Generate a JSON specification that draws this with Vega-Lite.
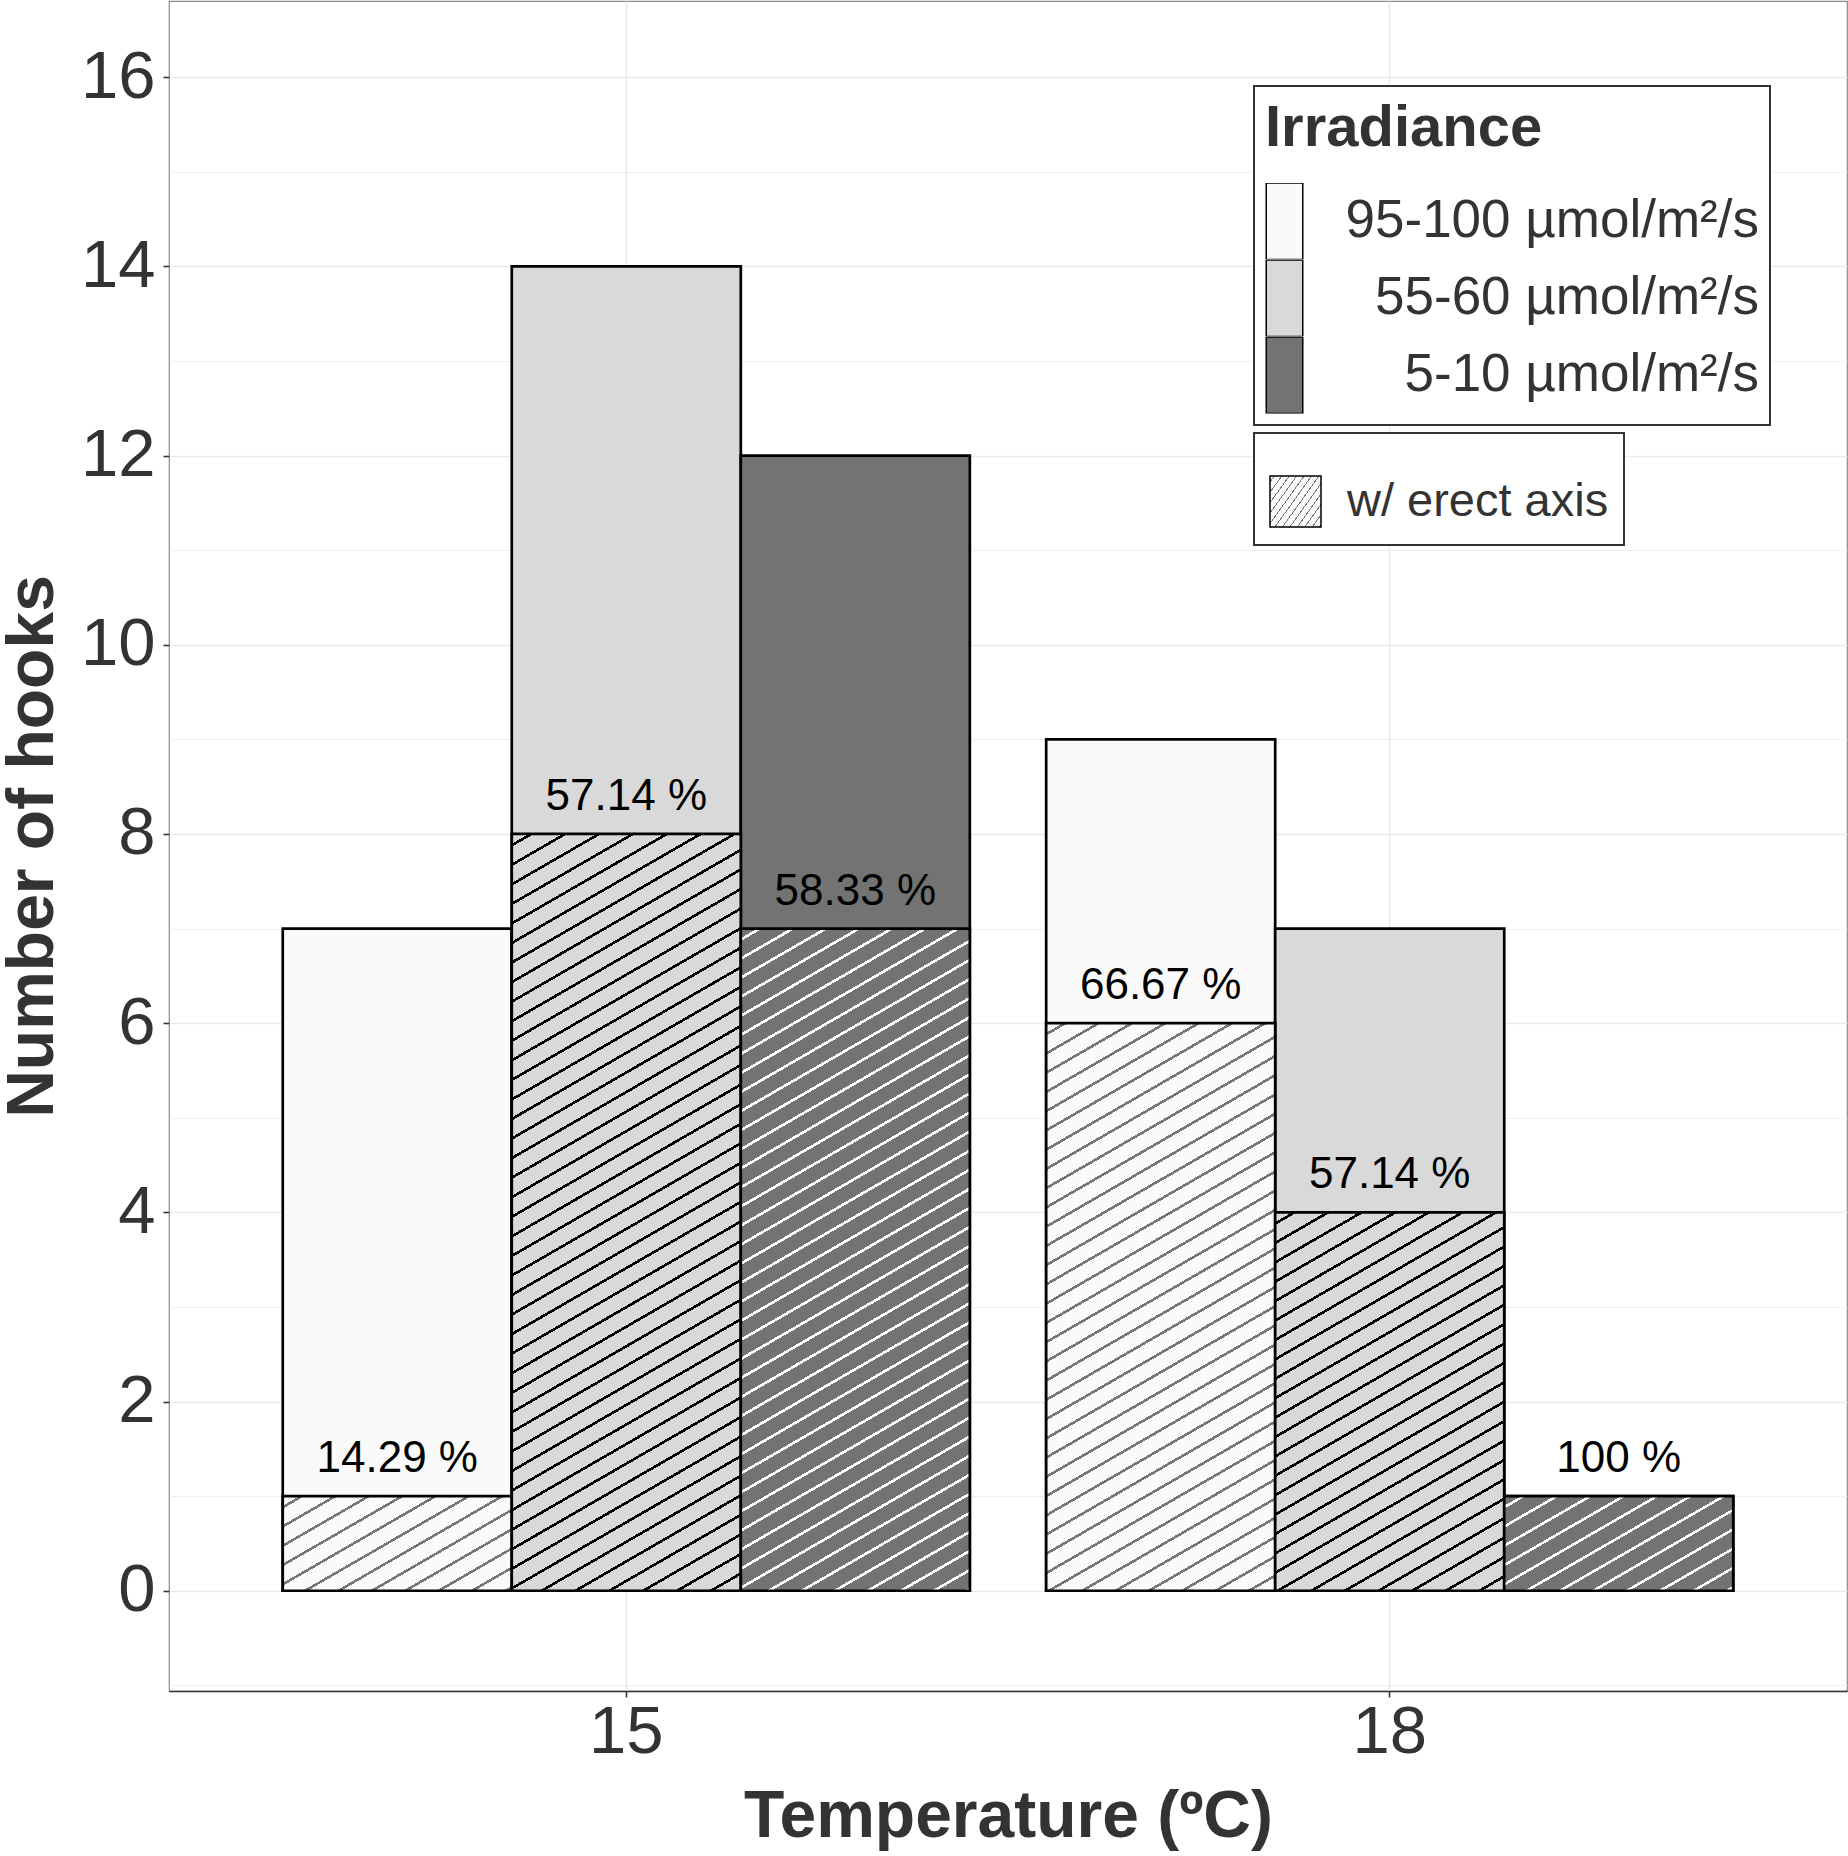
{
  "$schema": "https://vega.github.io/schema/vega-lite/v6.json",
  "width": 1678,
  "height": 1690,
  "autosize": "none",
  "padding": {"left": 169, "top": 1, "right": 1, "bottom": 165},
  "background": "white",
  "config": {
    "font": "Liberation Sans",
    "view": {"stroke": "#8a8a8a", "strokeWidth": 1.2},
    "legend": {"strokeWidth": 2}
  },
  "data": {
    "values": [
      {"temp": "15", "irr": "95-100 µmol/m²/s", "lvl": 1, "total": 7, "erect": 1, "pct": "14.29 %"},
      {"temp": "15", "irr": "55-60 µmol/m²/s", "lvl": 2, "total": 14, "erect": 8, "pct": "57.14 %"},
      {"temp": "15", "irr": "5-10 µmol/m²/s", "lvl": 3, "total": 12, "erect": 7, "pct": "58.33 %"},
      {"temp": "18", "irr": "95-100 µmol/m²/s", "lvl": 1, "total": 9, "erect": 6, "pct": "66.67 %"},
      {"temp": "18", "irr": "55-60 µmol/m²/s", "lvl": 2, "total": 7, "erect": 4, "pct": "57.14 %"},
      {"temp": "18", "irr": "5-10 µmol/m²/s", "lvl": 3, "total": 1, "erect": 1, "pct": "100 %"}
    ]
  },
  "encoding": {
    "x": {
      "field": "temp",
      "type": "nominal",
      "scale": {"type": "band", "paddingInner": 0.1, "paddingOuter": 0.149},
      "axis": {
        "labelAngle": 0,
        "labelFontSize": 67,
        "labelColor": "#333",
        "labelPadding": 2,
        "tickSize": 6,
        "tickWidth": 1.6,
        "tickColor": "#333",
        "domain": true,
        "domainColor": "#333",
        "domainWidth": 1.6,
        "grid": true,
        "gridColor": "#ebebeb",
        "gridWidth": 1.6,
        "title": "Temperature (ºC)",
        "titleFontSize": 66,
        "titleFontWeight": "bold",
        "titleColor": "#333",
        "titleBaseline": "alphabetic",
        "titleY": 145.7
      }
    },
    "xOffset": {
      "field": "irr",
      "type": "nominal",
      "scale": {
        "domain": ["95-100 µmol/m²/s", "55-60 µmol/m²/s", "5-10 µmol/m²/s"],
        "paddingInner": 0,
        "paddingOuter": 0
      }
    }
  },
  "layer": [
    {
      "mark": {"type": "bar", "stroke": "black", "strokeWidth": 2.7},
      "encoding": {
        "y": {
          "field": "total",
          "type": "quantitative",
          "stack": null,
          "scale": {"domain": [-1.06, 16.805], "nice": false, "zero": false},
          "axis": {
            "values": [-1, 0, 1, 2, 3, 4, 5, 6, 7, 8, 9, 10, 11, 12, 13, 14, 15, 16],
            "format": "d",
            "labelExpr": "datum.value % 2 == 0 ? datum.label : ''",
            "labelFontSize": 67,
            "labelColor": "#333",
            "labelPadding": 8,
            "tickSize": 6,
            "tickColor": "#333",
            "tickWidth": 1.6,
            "tickOpacity": {"condition": {"test": "datum.value % 2 == 0", "value": 1}, "value": 0},
            "domain": false,
            "grid": true,
            "gridColor": "#ebebeb",
            "gridWidth": {"condition": {"test": "datum.value % 2 == 0", "value": 1.6}, "value": 0.8},
            "title": "Number of hooks",
            "titleFontSize": 66,
            "titleFontWeight": "bold",
            "titleColor": "#333",
            "titleBaseline": "alphabetic",
            "titleX": -116.7
          }
        },
        "fill": {
          "field": "irr",
          "type": "nominal",
          "scale": {
            "domain": ["95-100 µmol/m²/s", "55-60 µmol/m²/s", "5-10 µmol/m²/s"],
            "range": ["#fafafa", "#d9d9d9", "#737373"]
          },
          "legend": {
            "orient": "none",
            "legendX": 1085,
            "legendY": 85,
            "title": "Irradiance",
            "titleFontSize": 58,
            "titleFontWeight": "bold",
            "titleColor": "#333",
            "titleLimit": 1000,
            "titleLineHeight": 65,
            "titleBaseline": "line-top",
            "titlePadding": 28,
            "padding": 11,
            "fillColor": "white",
            "strokeColor": "#333",
            "symbolType": "M-0.4873,-1.0215H0.4873V1.0215H-0.4873Z",
            "symbolSize": 5610,
            "symbolOffset": -19,
            "clipHeight": 76.5,
            "labelAlign": "right",
            "labelOffset": 436,
            "labelFontSize": 53,
            "labelColor": "#333",
            "labelLimit": 0,
            "rowPadding": 0,
            "encode": {
              "symbols": {
                "update": {
                  "stroke": {"value": "#333"},
                  "strokeWidth": {"value": 1.2}
                }
              }
            }
          }
        }
      }
    },
    {
      "encoding": {
        "y": {
          "field": "erect",
          "type": "quantitative",
          "stack": null,
          "scale": {"domain": [-1.06, 16.805], "nice": false, "zero": false}
        },
        "opacity": {
          "datum": "w/ erect axis",
          "type": "nominal",
          "scale": {"range": [1]},
          "legend": {
            "orient": "none",
            "legendX": 1085,
            "legendY": 432,
            "title": " ",
            "titleFontSize": 10,
            "titleLineHeight": 20,
            "titleBaseline": "line-top",
            "titlePadding": 17,
            "padding": 15,
            "fillColor": "white",
            "strokeColor": "#333",
            "symbolType": "M-1,-1H1V1H-1Z",
            "symbolSize": 2601,
            "symbolOffset": 0,
            "labelOffset": 25,
            "labelFontSize": 47,
            "labelColor": "#333",
            "labelLimit": 0,
            "encode": {
              "symbols": {
                "update": {
                  "fill": {"value": {"gradient": "linear", "x1": 0, "y1": 0, "x2": 0.683, "y2": 1.183, "stops": [
                    {"offset": 0.127, "color": "#fcfcfc"}, {"offset": 0.127, "color": "#111"}, {"offset": 0.151, "color": "#111"}, {"offset": 0.151, "color": "#fcfcfc"},
                    {"offset": 0.317, "color": "#fcfcfc"}, {"offset": 0.317, "color": "#111"}, {"offset": 0.341, "color": "#111"}, {"offset": 0.341, "color": "#fcfcfc"},
                    {"offset": 0.507, "color": "#fcfcfc"}, {"offset": 0.507, "color": "#111"}, {"offset": 0.531, "color": "#111"}, {"offset": 0.531, "color": "#fcfcfc"},
                    {"offset": 0.697, "color": "#fcfcfc"}, {"offset": 0.697, "color": "#111"}, {"offset": 0.721, "color": "#111"}, {"offset": 0.721, "color": "#fcfcfc"},
                    {"offset": 0.887, "color": "#fcfcfc"}, {"offset": 0.887, "color": "#111"}, {"offset": 0.911, "color": "#111"}, {"offset": 0.911, "color": "#fcfcfc"}
                  ]}},
                  "stroke": {"value": "#aaa"},
                  "strokeWidth": {"value": 1.3},
                  "opacity": {"value": 1}
                }
              }
            }
          }
        }
      },
      "layer": [
        {
          "transform": [{"filter": "datum.temp == '15' && datum.lvl == 1"}],
          "mark": {"type": "bar", "stroke": "black", "strokeWidth": 2.7, "fill": {"gradient": "linear", "x1": 0, "y1": 0, "x2": 1.1347, "y2": 0.8117, "stops": [
            {"offset": 0.0425, "color": "#fafafa"}, {"offset": 0.0425, "color": "#777"}, {"offset": 0.0555, "color": "#777"}, {"offset": 0.0555, "color": "#fafafa"},
            {"offset": 0.1275, "color": "#fafafa"}, {"offset": 0.1275, "color": "#777"}, {"offset": 0.1405, "color": "#777"}, {"offset": 0.1405, "color": "#fafafa"},
            {"offset": 0.2125, "color": "#fafafa"}, {"offset": 0.2125, "color": "#777"}, {"offset": 0.2255, "color": "#777"}, {"offset": 0.2255, "color": "#fafafa"},
            {"offset": 0.2975, "color": "#fafafa"}, {"offset": 0.2975, "color": "#777"}, {"offset": 0.3105, "color": "#777"}, {"offset": 0.3105, "color": "#fafafa"},
            {"offset": 0.3825, "color": "#fafafa"}, {"offset": 0.3825, "color": "#777"}, {"offset": 0.3955, "color": "#777"}, {"offset": 0.3955, "color": "#fafafa"},
            {"offset": 0.4675, "color": "#fafafa"}, {"offset": 0.4675, "color": "#777"}, {"offset": 0.4805, "color": "#777"}, {"offset": 0.4805, "color": "#fafafa"},
            {"offset": 0.5525, "color": "#fafafa"}, {"offset": 0.5525, "color": "#777"}, {"offset": 0.5655, "color": "#777"}, {"offset": 0.5655, "color": "#fafafa"},
            {"offset": 0.6375, "color": "#fafafa"}, {"offset": 0.6375, "color": "#777"}, {"offset": 0.6505, "color": "#777"}, {"offset": 0.6505, "color": "#fafafa"},
            {"offset": 0.7225, "color": "#fafafa"}, {"offset": 0.7225, "color": "#777"}, {"offset": 0.7355, "color": "#777"}, {"offset": 0.7355, "color": "#fafafa"},
            {"offset": 0.8075, "color": "#fafafa"}, {"offset": 0.8075, "color": "#777"}, {"offset": 0.8205, "color": "#777"}, {"offset": 0.8205, "color": "#fafafa"},
            {"offset": 0.8925, "color": "#fafafa"}, {"offset": 0.8925, "color": "#777"}, {"offset": 0.9055, "color": "#777"}, {"offset": 0.9055, "color": "#fafafa"},
            {"offset": 0.9775, "color": "#fafafa"}, {"offset": 0.9775, "color": "#777"}, {"offset": 0.9905, "color": "#777"}, {"offset": 0.9905, "color": "#fafafa"}
          ]}}
        },
        {
          "transform": [{"filter": "datum.temp == '15' && datum.lvl == 2"}],
          "mark": {"type": "bar", "stroke": "black", "strokeWidth": 2.7, "fill": {"gradient": "linear", "x1": 0, "y1": 0, "x2": 0.19917, "y2": 1.13985, "stops": [
            {"offset": 0.011, "color": "#d9d9d9"}, {"offset": 0.011, "color": "#000"}, {"offset": 0.0144, "color": "#000"}, {"offset": 0.0144, "color": "#d9d9d9"},
            {"offset": 0.033, "color": "#d9d9d9"}, {"offset": 0.033, "color": "#000"}, {"offset": 0.0364, "color": "#000"}, {"offset": 0.0364, "color": "#d9d9d9"},
            {"offset": 0.055, "color": "#d9d9d9"}, {"offset": 0.055, "color": "#000"}, {"offset": 0.0584, "color": "#000"}, {"offset": 0.0584, "color": "#d9d9d9"},
            {"offset": 0.077, "color": "#d9d9d9"}, {"offset": 0.077, "color": "#000"}, {"offset": 0.0804, "color": "#000"}, {"offset": 0.0804, "color": "#d9d9d9"},
            {"offset": 0.099, "color": "#d9d9d9"}, {"offset": 0.099, "color": "#000"}, {"offset": 0.1024, "color": "#000"}, {"offset": 0.1024, "color": "#d9d9d9"},
            {"offset": 0.121, "color": "#d9d9d9"}, {"offset": 0.121, "color": "#000"}, {"offset": 0.1244, "color": "#000"}, {"offset": 0.1244, "color": "#d9d9d9"},
            {"offset": 0.143, "color": "#d9d9d9"}, {"offset": 0.143, "color": "#000"}, {"offset": 0.1464, "color": "#000"}, {"offset": 0.1464, "color": "#d9d9d9"},
            {"offset": 0.165, "color": "#d9d9d9"}, {"offset": 0.165, "color": "#000"}, {"offset": 0.1684, "color": "#000"}, {"offset": 0.1684, "color": "#d9d9d9"},
            {"offset": 0.187, "color": "#d9d9d9"}, {"offset": 0.187, "color": "#000"}, {"offset": 0.1904, "color": "#000"}, {"offset": 0.1904, "color": "#d9d9d9"},
            {"offset": 0.209, "color": "#d9d9d9"}, {"offset": 0.209, "color": "#000"}, {"offset": 0.2124, "color": "#000"}, {"offset": 0.2124, "color": "#d9d9d9"},
            {"offset": 0.231, "color": "#d9d9d9"}, {"offset": 0.231, "color": "#000"}, {"offset": 0.2344, "color": "#000"}, {"offset": 0.2344, "color": "#d9d9d9"},
            {"offset": 0.253, "color": "#d9d9d9"}, {"offset": 0.253, "color": "#000"}, {"offset": 0.2564, "color": "#000"}, {"offset": 0.2564, "color": "#d9d9d9"},
            {"offset": 0.275, "color": "#d9d9d9"}, {"offset": 0.275, "color": "#000"}, {"offset": 0.2784, "color": "#000"}, {"offset": 0.2784, "color": "#d9d9d9"},
            {"offset": 0.297, "color": "#d9d9d9"}, {"offset": 0.297, "color": "#000"}, {"offset": 0.3004, "color": "#000"}, {"offset": 0.3004, "color": "#d9d9d9"},
            {"offset": 0.319, "color": "#d9d9d9"}, {"offset": 0.319, "color": "#000"}, {"offset": 0.3224, "color": "#000"}, {"offset": 0.3224, "color": "#d9d9d9"},
            {"offset": 0.341, "color": "#d9d9d9"}, {"offset": 0.341, "color": "#000"}, {"offset": 0.3444, "color": "#000"}, {"offset": 0.3444, "color": "#d9d9d9"},
            {"offset": 0.363, "color": "#d9d9d9"}, {"offset": 0.363, "color": "#000"}, {"offset": 0.3664, "color": "#000"}, {"offset": 0.3664, "color": "#d9d9d9"},
            {"offset": 0.385, "color": "#d9d9d9"}, {"offset": 0.385, "color": "#000"}, {"offset": 0.3884, "color": "#000"}, {"offset": 0.3884, "color": "#d9d9d9"},
            {"offset": 0.407, "color": "#d9d9d9"}, {"offset": 0.407, "color": "#000"}, {"offset": 0.4104, "color": "#000"}, {"offset": 0.4104, "color": "#d9d9d9"},
            {"offset": 0.429, "color": "#d9d9d9"}, {"offset": 0.429, "color": "#000"}, {"offset": 0.4324, "color": "#000"}, {"offset": 0.4324, "color": "#d9d9d9"},
            {"offset": 0.451, "color": "#d9d9d9"}, {"offset": 0.451, "color": "#000"}, {"offset": 0.4544, "color": "#000"}, {"offset": 0.4544, "color": "#d9d9d9"},
            {"offset": 0.473, "color": "#d9d9d9"}, {"offset": 0.473, "color": "#000"}, {"offset": 0.4764, "color": "#000"}, {"offset": 0.4764, "color": "#d9d9d9"},
            {"offset": 0.495, "color": "#d9d9d9"}, {"offset": 0.495, "color": "#000"}, {"offset": 0.4984, "color": "#000"}, {"offset": 0.4984, "color": "#d9d9d9"},
            {"offset": 0.517, "color": "#d9d9d9"}, {"offset": 0.517, "color": "#000"}, {"offset": 0.5204, "color": "#000"}, {"offset": 0.5204, "color": "#d9d9d9"},
            {"offset": 0.539, "color": "#d9d9d9"}, {"offset": 0.539, "color": "#000"}, {"offset": 0.5424, "color": "#000"}, {"offset": 0.5424, "color": "#d9d9d9"},
            {"offset": 0.561, "color": "#d9d9d9"}, {"offset": 0.561, "color": "#000"}, {"offset": 0.5644, "color": "#000"}, {"offset": 0.5644, "color": "#d9d9d9"},
            {"offset": 0.583, "color": "#d9d9d9"}, {"offset": 0.583, "color": "#000"}, {"offset": 0.5864, "color": "#000"}, {"offset": 0.5864, "color": "#d9d9d9"},
            {"offset": 0.605, "color": "#d9d9d9"}, {"offset": 0.605, "color": "#000"}, {"offset": 0.6084, "color": "#000"}, {"offset": 0.6084, "color": "#d9d9d9"},
            {"offset": 0.627, "color": "#d9d9d9"}, {"offset": 0.627, "color": "#000"}, {"offset": 0.6304, "color": "#000"}, {"offset": 0.6304, "color": "#d9d9d9"},
            {"offset": 0.649, "color": "#d9d9d9"}, {"offset": 0.649, "color": "#000"}, {"offset": 0.6524, "color": "#000"}, {"offset": 0.6524, "color": "#d9d9d9"},
            {"offset": 0.671, "color": "#d9d9d9"}, {"offset": 0.671, "color": "#000"}, {"offset": 0.6744, "color": "#000"}, {"offset": 0.6744, "color": "#d9d9d9"},
            {"offset": 0.693, "color": "#d9d9d9"}, {"offset": 0.693, "color": "#000"}, {"offset": 0.6964, "color": "#000"}, {"offset": 0.6964, "color": "#d9d9d9"},
            {"offset": 0.715, "color": "#d9d9d9"}, {"offset": 0.715, "color": "#000"}, {"offset": 0.7184, "color": "#000"}, {"offset": 0.7184, "color": "#d9d9d9"},
            {"offset": 0.737, "color": "#d9d9d9"}, {"offset": 0.737, "color": "#000"}, {"offset": 0.7404, "color": "#000"}, {"offset": 0.7404, "color": "#d9d9d9"},
            {"offset": 0.759, "color": "#d9d9d9"}, {"offset": 0.759, "color": "#000"}, {"offset": 0.7624, "color": "#000"}, {"offset": 0.7624, "color": "#d9d9d9"},
            {"offset": 0.781, "color": "#d9d9d9"}, {"offset": 0.781, "color": "#000"}, {"offset": 0.7844, "color": "#000"}, {"offset": 0.7844, "color": "#d9d9d9"},
            {"offset": 0.803, "color": "#d9d9d9"}, {"offset": 0.803, "color": "#000"}, {"offset": 0.8064, "color": "#000"}, {"offset": 0.8064, "color": "#d9d9d9"},
            {"offset": 0.825, "color": "#d9d9d9"}, {"offset": 0.825, "color": "#000"}, {"offset": 0.8284, "color": "#000"}, {"offset": 0.8284, "color": "#d9d9d9"},
            {"offset": 0.847, "color": "#d9d9d9"}, {"offset": 0.847, "color": "#000"}, {"offset": 0.8504, "color": "#000"}, {"offset": 0.8504, "color": "#d9d9d9"},
            {"offset": 0.869, "color": "#d9d9d9"}, {"offset": 0.869, "color": "#000"}, {"offset": 0.8724, "color": "#000"}, {"offset": 0.8724, "color": "#d9d9d9"},
            {"offset": 0.891, "color": "#d9d9d9"}, {"offset": 0.891, "color": "#000"}, {"offset": 0.8944, "color": "#000"}, {"offset": 0.8944, "color": "#d9d9d9"},
            {"offset": 0.913, "color": "#d9d9d9"}, {"offset": 0.913, "color": "#000"}, {"offset": 0.9164, "color": "#000"}, {"offset": 0.9164, "color": "#d9d9d9"},
            {"offset": 0.935, "color": "#d9d9d9"}, {"offset": 0.935, "color": "#000"}, {"offset": 0.9384, "color": "#000"}, {"offset": 0.9384, "color": "#d9d9d9"},
            {"offset": 0.957, "color": "#d9d9d9"}, {"offset": 0.957, "color": "#000"}, {"offset": 0.9604, "color": "#000"}, {"offset": 0.9604, "color": "#d9d9d9"},
            {"offset": 0.979, "color": "#d9d9d9"}, {"offset": 0.979, "color": "#000"}, {"offset": 0.9824, "color": "#000"}, {"offset": 0.9824, "color": "#d9d9d9"}
          ]}}
        },
        {
          "transform": [{"filter": "datum.temp == '15' && datum.lvl == 3"}],
          "mark": {"type": "bar", "stroke": "black", "strokeWidth": 2.7, "fill": {"gradient": "linear", "x1": 0, "y1": 0, "x2": 0.23037, "y2": 1.15365, "stops": [
            {"offset": 0.012, "color": "#737373"}, {"offset": 0.012, "color": "#fff"}, {"offset": 0.0158, "color": "#fff"}, {"offset": 0.0158, "color": "#737373"},
            {"offset": 0.036, "color": "#737373"}, {"offset": 0.036, "color": "#fff"}, {"offset": 0.0398, "color": "#fff"}, {"offset": 0.0398, "color": "#737373"},
            {"offset": 0.06, "color": "#737373"}, {"offset": 0.06, "color": "#fff"}, {"offset": 0.0638, "color": "#fff"}, {"offset": 0.0638, "color": "#737373"},
            {"offset": 0.084, "color": "#737373"}, {"offset": 0.084, "color": "#fff"}, {"offset": 0.0878, "color": "#fff"}, {"offset": 0.0878, "color": "#737373"},
            {"offset": 0.108, "color": "#737373"}, {"offset": 0.108, "color": "#fff"}, {"offset": 0.1118, "color": "#fff"}, {"offset": 0.1118, "color": "#737373"},
            {"offset": 0.132, "color": "#737373"}, {"offset": 0.132, "color": "#fff"}, {"offset": 0.1358, "color": "#fff"}, {"offset": 0.1358, "color": "#737373"},
            {"offset": 0.156, "color": "#737373"}, {"offset": 0.156, "color": "#fff"}, {"offset": 0.1598, "color": "#fff"}, {"offset": 0.1598, "color": "#737373"},
            {"offset": 0.18, "color": "#737373"}, {"offset": 0.18, "color": "#fff"}, {"offset": 0.1838, "color": "#fff"}, {"offset": 0.1838, "color": "#737373"},
            {"offset": 0.204, "color": "#737373"}, {"offset": 0.204, "color": "#fff"}, {"offset": 0.2078, "color": "#fff"}, {"offset": 0.2078, "color": "#737373"},
            {"offset": 0.228, "color": "#737373"}, {"offset": 0.228, "color": "#fff"}, {"offset": 0.2318, "color": "#fff"}, {"offset": 0.2318, "color": "#737373"},
            {"offset": 0.252, "color": "#737373"}, {"offset": 0.252, "color": "#fff"}, {"offset": 0.2558, "color": "#fff"}, {"offset": 0.2558, "color": "#737373"},
            {"offset": 0.276, "color": "#737373"}, {"offset": 0.276, "color": "#fff"}, {"offset": 0.2798, "color": "#fff"}, {"offset": 0.2798, "color": "#737373"},
            {"offset": 0.3, "color": "#737373"}, {"offset": 0.3, "color": "#fff"}, {"offset": 0.3038, "color": "#fff"}, {"offset": 0.3038, "color": "#737373"},
            {"offset": 0.324, "color": "#737373"}, {"offset": 0.324, "color": "#fff"}, {"offset": 0.3278, "color": "#fff"}, {"offset": 0.3278, "color": "#737373"},
            {"offset": 0.348, "color": "#737373"}, {"offset": 0.348, "color": "#fff"}, {"offset": 0.3518, "color": "#fff"}, {"offset": 0.3518, "color": "#737373"},
            {"offset": 0.372, "color": "#737373"}, {"offset": 0.372, "color": "#fff"}, {"offset": 0.3758, "color": "#fff"}, {"offset": 0.3758, "color": "#737373"},
            {"offset": 0.396, "color": "#737373"}, {"offset": 0.396, "color": "#fff"}, {"offset": 0.3998, "color": "#fff"}, {"offset": 0.3998, "color": "#737373"},
            {"offset": 0.42, "color": "#737373"}, {"offset": 0.42, "color": "#fff"}, {"offset": 0.4238, "color": "#fff"}, {"offset": 0.4238, "color": "#737373"},
            {"offset": 0.444, "color": "#737373"}, {"offset": 0.444, "color": "#fff"}, {"offset": 0.4478, "color": "#fff"}, {"offset": 0.4478, "color": "#737373"},
            {"offset": 0.468, "color": "#737373"}, {"offset": 0.468, "color": "#fff"}, {"offset": 0.4718, "color": "#fff"}, {"offset": 0.4718, "color": "#737373"},
            {"offset": 0.492, "color": "#737373"}, {"offset": 0.492, "color": "#fff"}, {"offset": 0.4958, "color": "#fff"}, {"offset": 0.4958, "color": "#737373"},
            {"offset": 0.516, "color": "#737373"}, {"offset": 0.516, "color": "#fff"}, {"offset": 0.5198, "color": "#fff"}, {"offset": 0.5198, "color": "#737373"},
            {"offset": 0.54, "color": "#737373"}, {"offset": 0.54, "color": "#fff"}, {"offset": 0.5438, "color": "#fff"}, {"offset": 0.5438, "color": "#737373"},
            {"offset": 0.564, "color": "#737373"}, {"offset": 0.564, "color": "#fff"}, {"offset": 0.5678, "color": "#fff"}, {"offset": 0.5678, "color": "#737373"},
            {"offset": 0.588, "color": "#737373"}, {"offset": 0.588, "color": "#fff"}, {"offset": 0.5918, "color": "#fff"}, {"offset": 0.5918, "color": "#737373"},
            {"offset": 0.612, "color": "#737373"}, {"offset": 0.612, "color": "#fff"}, {"offset": 0.6158, "color": "#fff"}, {"offset": 0.6158, "color": "#737373"},
            {"offset": 0.636, "color": "#737373"}, {"offset": 0.636, "color": "#fff"}, {"offset": 0.6398, "color": "#fff"}, {"offset": 0.6398, "color": "#737373"},
            {"offset": 0.66, "color": "#737373"}, {"offset": 0.66, "color": "#fff"}, {"offset": 0.6638, "color": "#fff"}, {"offset": 0.6638, "color": "#737373"},
            {"offset": 0.684, "color": "#737373"}, {"offset": 0.684, "color": "#fff"}, {"offset": 0.6878, "color": "#fff"}, {"offset": 0.6878, "color": "#737373"},
            {"offset": 0.708, "color": "#737373"}, {"offset": 0.708, "color": "#fff"}, {"offset": 0.7118, "color": "#fff"}, {"offset": 0.7118, "color": "#737373"},
            {"offset": 0.732, "color": "#737373"}, {"offset": 0.732, "color": "#fff"}, {"offset": 0.7358, "color": "#fff"}, {"offset": 0.7358, "color": "#737373"},
            {"offset": 0.756, "color": "#737373"}, {"offset": 0.756, "color": "#fff"}, {"offset": 0.7598, "color": "#fff"}, {"offset": 0.7598, "color": "#737373"},
            {"offset": 0.78, "color": "#737373"}, {"offset": 0.78, "color": "#fff"}, {"offset": 0.7838, "color": "#fff"}, {"offset": 0.7838, "color": "#737373"},
            {"offset": 0.804, "color": "#737373"}, {"offset": 0.804, "color": "#fff"}, {"offset": 0.8078, "color": "#fff"}, {"offset": 0.8078, "color": "#737373"},
            {"offset": 0.828, "color": "#737373"}, {"offset": 0.828, "color": "#fff"}, {"offset": 0.8318, "color": "#fff"}, {"offset": 0.8318, "color": "#737373"},
            {"offset": 0.852, "color": "#737373"}, {"offset": 0.852, "color": "#fff"}, {"offset": 0.8558, "color": "#fff"}, {"offset": 0.8558, "color": "#737373"},
            {"offset": 0.876, "color": "#737373"}, {"offset": 0.876, "color": "#fff"}, {"offset": 0.8798, "color": "#fff"}, {"offset": 0.8798, "color": "#737373"},
            {"offset": 0.9, "color": "#737373"}, {"offset": 0.9, "color": "#fff"}, {"offset": 0.9038, "color": "#fff"}, {"offset": 0.9038, "color": "#737373"},
            {"offset": 0.924, "color": "#737373"}, {"offset": 0.924, "color": "#fff"}, {"offset": 0.9278, "color": "#fff"}, {"offset": 0.9278, "color": "#737373"},
            {"offset": 0.948, "color": "#737373"}, {"offset": 0.948, "color": "#fff"}, {"offset": 0.9518, "color": "#fff"}, {"offset": 0.9518, "color": "#737373"},
            {"offset": 0.972, "color": "#737373"}, {"offset": 0.972, "color": "#fff"}, {"offset": 0.9758, "color": "#fff"}, {"offset": 0.9758, "color": "#737373"},
            {"offset": 0.996, "color": "#737373"}, {"offset": 0.996, "color": "#fff"}, {"offset": 0.9998, "color": "#fff"}, {"offset": 0.9998, "color": "#737373"}
          ]}}
        },
        {
          "transform": [{"filter": "datum.temp == '18' && datum.lvl == 1"}],
          "mark": {"type": "bar", "stroke": "black", "strokeWidth": 2.7, "fill": {"gradient": "linear", "x1": 0, "y1": 0, "x2": 0.27244, "y2": 1.16943, "stops": [
            {"offset": 0.01375, "color": "#fafafa"}, {"offset": 0.01375, "color": "#777"}, {"offset": 0.01805, "color": "#777"}, {"offset": 0.01805, "color": "#fafafa"},
            {"offset": 0.04125, "color": "#fafafa"}, {"offset": 0.04125, "color": "#777"}, {"offset": 0.04555, "color": "#777"}, {"offset": 0.04555, "color": "#fafafa"},
            {"offset": 0.06875, "color": "#fafafa"}, {"offset": 0.06875, "color": "#777"}, {"offset": 0.07305, "color": "#777"}, {"offset": 0.07305, "color": "#fafafa"},
            {"offset": 0.09625, "color": "#fafafa"}, {"offset": 0.09625, "color": "#777"}, {"offset": 0.10055, "color": "#777"}, {"offset": 0.10055, "color": "#fafafa"},
            {"offset": 0.12375, "color": "#fafafa"}, {"offset": 0.12375, "color": "#777"}, {"offset": 0.12805, "color": "#777"}, {"offset": 0.12805, "color": "#fafafa"},
            {"offset": 0.15125, "color": "#fafafa"}, {"offset": 0.15125, "color": "#777"}, {"offset": 0.15555, "color": "#777"}, {"offset": 0.15555, "color": "#fafafa"},
            {"offset": 0.17875, "color": "#fafafa"}, {"offset": 0.17875, "color": "#777"}, {"offset": 0.18305, "color": "#777"}, {"offset": 0.18305, "color": "#fafafa"},
            {"offset": 0.20625, "color": "#fafafa"}, {"offset": 0.20625, "color": "#777"}, {"offset": 0.21055, "color": "#777"}, {"offset": 0.21055, "color": "#fafafa"},
            {"offset": 0.23375, "color": "#fafafa"}, {"offset": 0.23375, "color": "#777"}, {"offset": 0.23805, "color": "#777"}, {"offset": 0.23805, "color": "#fafafa"},
            {"offset": 0.26125, "color": "#fafafa"}, {"offset": 0.26125, "color": "#777"}, {"offset": 0.26555, "color": "#777"}, {"offset": 0.26555, "color": "#fafafa"},
            {"offset": 0.28875, "color": "#fafafa"}, {"offset": 0.28875, "color": "#777"}, {"offset": 0.29305, "color": "#777"}, {"offset": 0.29305, "color": "#fafafa"},
            {"offset": 0.31625, "color": "#fafafa"}, {"offset": 0.31625, "color": "#777"}, {"offset": 0.32055, "color": "#777"}, {"offset": 0.32055, "color": "#fafafa"},
            {"offset": 0.34375, "color": "#fafafa"}, {"offset": 0.34375, "color": "#777"}, {"offset": 0.34805, "color": "#777"}, {"offset": 0.34805, "color": "#fafafa"},
            {"offset": 0.37125, "color": "#fafafa"}, {"offset": 0.37125, "color": "#777"}, {"offset": 0.37555, "color": "#777"}, {"offset": 0.37555, "color": "#fafafa"},
            {"offset": 0.39875, "color": "#fafafa"}, {"offset": 0.39875, "color": "#777"}, {"offset": 0.40305, "color": "#777"}, {"offset": 0.40305, "color": "#fafafa"},
            {"offset": 0.42625, "color": "#fafafa"}, {"offset": 0.42625, "color": "#777"}, {"offset": 0.43055, "color": "#777"}, {"offset": 0.43055, "color": "#fafafa"},
            {"offset": 0.45375, "color": "#fafafa"}, {"offset": 0.45375, "color": "#777"}, {"offset": 0.45805, "color": "#777"}, {"offset": 0.45805, "color": "#fafafa"},
            {"offset": 0.48125, "color": "#fafafa"}, {"offset": 0.48125, "color": "#777"}, {"offset": 0.48555, "color": "#777"}, {"offset": 0.48555, "color": "#fafafa"},
            {"offset": 0.50875, "color": "#fafafa"}, {"offset": 0.50875, "color": "#777"}, {"offset": 0.51305, "color": "#777"}, {"offset": 0.51305, "color": "#fafafa"},
            {"offset": 0.53625, "color": "#fafafa"}, {"offset": 0.53625, "color": "#777"}, {"offset": 0.54055, "color": "#777"}, {"offset": 0.54055, "color": "#fafafa"},
            {"offset": 0.56375, "color": "#fafafa"}, {"offset": 0.56375, "color": "#777"}, {"offset": 0.56805, "color": "#777"}, {"offset": 0.56805, "color": "#fafafa"},
            {"offset": 0.59125, "color": "#fafafa"}, {"offset": 0.59125, "color": "#777"}, {"offset": 0.59555, "color": "#777"}, {"offset": 0.59555, "color": "#fafafa"},
            {"offset": 0.61875, "color": "#fafafa"}, {"offset": 0.61875, "color": "#777"}, {"offset": 0.62305, "color": "#777"}, {"offset": 0.62305, "color": "#fafafa"},
            {"offset": 0.64625, "color": "#fafafa"}, {"offset": 0.64625, "color": "#777"}, {"offset": 0.65055, "color": "#777"}, {"offset": 0.65055, "color": "#fafafa"},
            {"offset": 0.67375, "color": "#fafafa"}, {"offset": 0.67375, "color": "#777"}, {"offset": 0.67805, "color": "#777"}, {"offset": 0.67805, "color": "#fafafa"},
            {"offset": 0.70125, "color": "#fafafa"}, {"offset": 0.70125, "color": "#777"}, {"offset": 0.70555, "color": "#777"}, {"offset": 0.70555, "color": "#fafafa"},
            {"offset": 0.72875, "color": "#fafafa"}, {"offset": 0.72875, "color": "#777"}, {"offset": 0.73305, "color": "#777"}, {"offset": 0.73305, "color": "#fafafa"},
            {"offset": 0.75625, "color": "#fafafa"}, {"offset": 0.75625, "color": "#777"}, {"offset": 0.76055, "color": "#777"}, {"offset": 0.76055, "color": "#fafafa"},
            {"offset": 0.78375, "color": "#fafafa"}, {"offset": 0.78375, "color": "#777"}, {"offset": 0.78805, "color": "#777"}, {"offset": 0.78805, "color": "#fafafa"},
            {"offset": 0.81125, "color": "#fafafa"}, {"offset": 0.81125, "color": "#777"}, {"offset": 0.81555, "color": "#777"}, {"offset": 0.81555, "color": "#fafafa"},
            {"offset": 0.83875, "color": "#fafafa"}, {"offset": 0.83875, "color": "#777"}, {"offset": 0.84305, "color": "#777"}, {"offset": 0.84305, "color": "#fafafa"},
            {"offset": 0.86625, "color": "#fafafa"}, {"offset": 0.86625, "color": "#777"}, {"offset": 0.87055, "color": "#777"}, {"offset": 0.87055, "color": "#fafafa"},
            {"offset": 0.89375, "color": "#fafafa"}, {"offset": 0.89375, "color": "#777"}, {"offset": 0.89805, "color": "#777"}, {"offset": 0.89805, "color": "#fafafa"},
            {"offset": 0.92125, "color": "#fafafa"}, {"offset": 0.92125, "color": "#777"}, {"offset": 0.92555, "color": "#777"}, {"offset": 0.92555, "color": "#fafafa"},
            {"offset": 0.94875, "color": "#fafafa"}, {"offset": 0.94875, "color": "#777"}, {"offset": 0.95305, "color": "#777"}, {"offset": 0.95305, "color": "#fafafa"},
            {"offset": 0.97625, "color": "#fafafa"}, {"offset": 0.97625, "color": "#777"}, {"offset": 0.98055, "color": "#777"}, {"offset": 0.98055, "color": "#fafafa"}
          ]}}
        },
        {
          "transform": [{"filter": "datum.temp == '18' && datum.lvl == 2"}],
          "mark": {"type": "bar", "stroke": "black", "strokeWidth": 2.7, "fill": {"gradient": "linear", "x1": 0, "y1": 0, "x2": 0.42024, "y2": 1.20254, "stops": [
            {"offset": 0.019, "color": "#d9d9d9"}, {"offset": 0.019, "color": "#000"}, {"offset": 0.0249, "color": "#000"}, {"offset": 0.0249, "color": "#d9d9d9"},
            {"offset": 0.057, "color": "#d9d9d9"}, {"offset": 0.057, "color": "#000"}, {"offset": 0.0629, "color": "#000"}, {"offset": 0.0629, "color": "#d9d9d9"},
            {"offset": 0.095, "color": "#d9d9d9"}, {"offset": 0.095, "color": "#000"}, {"offset": 0.1009, "color": "#000"}, {"offset": 0.1009, "color": "#d9d9d9"},
            {"offset": 0.133, "color": "#d9d9d9"}, {"offset": 0.133, "color": "#000"}, {"offset": 0.1389, "color": "#000"}, {"offset": 0.1389, "color": "#d9d9d9"},
            {"offset": 0.171, "color": "#d9d9d9"}, {"offset": 0.171, "color": "#000"}, {"offset": 0.1769, "color": "#000"}, {"offset": 0.1769, "color": "#d9d9d9"},
            {"offset": 0.209, "color": "#d9d9d9"}, {"offset": 0.209, "color": "#000"}, {"offset": 0.2149, "color": "#000"}, {"offset": 0.2149, "color": "#d9d9d9"},
            {"offset": 0.247, "color": "#d9d9d9"}, {"offset": 0.247, "color": "#000"}, {"offset": 0.2529, "color": "#000"}, {"offset": 0.2529, "color": "#d9d9d9"},
            {"offset": 0.285, "color": "#d9d9d9"}, {"offset": 0.285, "color": "#000"}, {"offset": 0.2909, "color": "#000"}, {"offset": 0.2909, "color": "#d9d9d9"},
            {"offset": 0.323, "color": "#d9d9d9"}, {"offset": 0.323, "color": "#000"}, {"offset": 0.3289, "color": "#000"}, {"offset": 0.3289, "color": "#d9d9d9"},
            {"offset": 0.361, "color": "#d9d9d9"}, {"offset": 0.361, "color": "#000"}, {"offset": 0.3669, "color": "#000"}, {"offset": 0.3669, "color": "#d9d9d9"},
            {"offset": 0.399, "color": "#d9d9d9"}, {"offset": 0.399, "color": "#000"}, {"offset": 0.4049, "color": "#000"}, {"offset": 0.4049, "color": "#d9d9d9"},
            {"offset": 0.437, "color": "#d9d9d9"}, {"offset": 0.437, "color": "#000"}, {"offset": 0.4429, "color": "#000"}, {"offset": 0.4429, "color": "#d9d9d9"},
            {"offset": 0.475, "color": "#d9d9d9"}, {"offset": 0.475, "color": "#000"}, {"offset": 0.4809, "color": "#000"}, {"offset": 0.4809, "color": "#d9d9d9"},
            {"offset": 0.513, "color": "#d9d9d9"}, {"offset": 0.513, "color": "#000"}, {"offset": 0.5189, "color": "#000"}, {"offset": 0.5189, "color": "#d9d9d9"},
            {"offset": 0.551, "color": "#d9d9d9"}, {"offset": 0.551, "color": "#000"}, {"offset": 0.5569, "color": "#000"}, {"offset": 0.5569, "color": "#d9d9d9"},
            {"offset": 0.589, "color": "#d9d9d9"}, {"offset": 0.589, "color": "#000"}, {"offset": 0.5949, "color": "#000"}, {"offset": 0.5949, "color": "#d9d9d9"},
            {"offset": 0.627, "color": "#d9d9d9"}, {"offset": 0.627, "color": "#000"}, {"offset": 0.6329, "color": "#000"}, {"offset": 0.6329, "color": "#d9d9d9"},
            {"offset": 0.665, "color": "#d9d9d9"}, {"offset": 0.665, "color": "#000"}, {"offset": 0.6709, "color": "#000"}, {"offset": 0.6709, "color": "#d9d9d9"},
            {"offset": 0.703, "color": "#d9d9d9"}, {"offset": 0.703, "color": "#000"}, {"offset": 0.7089, "color": "#000"}, {"offset": 0.7089, "color": "#d9d9d9"},
            {"offset": 0.741, "color": "#d9d9d9"}, {"offset": 0.741, "color": "#000"}, {"offset": 0.7469, "color": "#000"}, {"offset": 0.7469, "color": "#d9d9d9"},
            {"offset": 0.779, "color": "#d9d9d9"}, {"offset": 0.779, "color": "#000"}, {"offset": 0.7849, "color": "#000"}, {"offset": 0.7849, "color": "#d9d9d9"},
            {"offset": 0.817, "color": "#d9d9d9"}, {"offset": 0.817, "color": "#000"}, {"offset": 0.8229, "color": "#000"}, {"offset": 0.8229, "color": "#d9d9d9"},
            {"offset": 0.855, "color": "#d9d9d9"}, {"offset": 0.855, "color": "#000"}, {"offset": 0.8609, "color": "#000"}, {"offset": 0.8609, "color": "#d9d9d9"},
            {"offset": 0.893, "color": "#d9d9d9"}, {"offset": 0.893, "color": "#000"}, {"offset": 0.8989, "color": "#000"}, {"offset": 0.8989, "color": "#d9d9d9"},
            {"offset": 0.931, "color": "#d9d9d9"}, {"offset": 0.931, "color": "#000"}, {"offset": 0.9369, "color": "#000"}, {"offset": 0.9369, "color": "#d9d9d9"},
            {"offset": 0.969, "color": "#d9d9d9"}, {"offset": 0.969, "color": "#000"}, {"offset": 0.9749, "color": "#000"}, {"offset": 0.9749, "color": "#d9d9d9"}
          ]}}
        },
        {
          "transform": [{"filter": "datum.temp == '18' && datum.lvl == 3"}],
          "mark": {"type": "bar", "stroke": "black", "strokeWidth": 2.7, "fill": {"gradient": "linear", "x1": 0, "y1": 0, "x2": 1.1347, "y2": 0.8117, "stops": [
            {"offset": 0.0425, "color": "#737373"}, {"offset": 0.0425, "color": "#fff"}, {"offset": 0.0555, "color": "#fff"}, {"offset": 0.0555, "color": "#737373"},
            {"offset": 0.1275, "color": "#737373"}, {"offset": 0.1275, "color": "#fff"}, {"offset": 0.1405, "color": "#fff"}, {"offset": 0.1405, "color": "#737373"},
            {"offset": 0.2125, "color": "#737373"}, {"offset": 0.2125, "color": "#fff"}, {"offset": 0.2255, "color": "#fff"}, {"offset": 0.2255, "color": "#737373"},
            {"offset": 0.2975, "color": "#737373"}, {"offset": 0.2975, "color": "#fff"}, {"offset": 0.3105, "color": "#fff"}, {"offset": 0.3105, "color": "#737373"},
            {"offset": 0.3825, "color": "#737373"}, {"offset": 0.3825, "color": "#fff"}, {"offset": 0.3955, "color": "#fff"}, {"offset": 0.3955, "color": "#737373"},
            {"offset": 0.4675, "color": "#737373"}, {"offset": 0.4675, "color": "#fff"}, {"offset": 0.4805, "color": "#fff"}, {"offset": 0.4805, "color": "#737373"},
            {"offset": 0.5525, "color": "#737373"}, {"offset": 0.5525, "color": "#fff"}, {"offset": 0.5655, "color": "#fff"}, {"offset": 0.5655, "color": "#737373"},
            {"offset": 0.6375, "color": "#737373"}, {"offset": 0.6375, "color": "#fff"}, {"offset": 0.6505, "color": "#fff"}, {"offset": 0.6505, "color": "#737373"},
            {"offset": 0.7225, "color": "#737373"}, {"offset": 0.7225, "color": "#fff"}, {"offset": 0.7355, "color": "#fff"}, {"offset": 0.7355, "color": "#737373"},
            {"offset": 0.8075, "color": "#737373"}, {"offset": 0.8075, "color": "#fff"}, {"offset": 0.8205, "color": "#fff"}, {"offset": 0.8205, "color": "#737373"},
            {"offset": 0.8925, "color": "#737373"}, {"offset": 0.8925, "color": "#fff"}, {"offset": 0.9055, "color": "#fff"}, {"offset": 0.9055, "color": "#737373"},
            {"offset": 0.9775, "color": "#737373"}, {"offset": 0.9775, "color": "#fff"}, {"offset": 0.9905, "color": "#fff"}, {"offset": 0.9905, "color": "#737373"}
          ]}}
        }
      ]
    },
    {
      "mark": {"type": "text", "baseline": "alphabetic", "dy": -24, "fontSize": 44, "fill": "black"},
      "encoding": {
        "y": {
          "field": "erect",
          "type": "quantitative",
          "scale": {"domain": [-1.06, 16.805], "nice": false, "zero": false}
        },
        "text": {"field": "pct", "type": "nominal"}
      }
    }
  ]
}
